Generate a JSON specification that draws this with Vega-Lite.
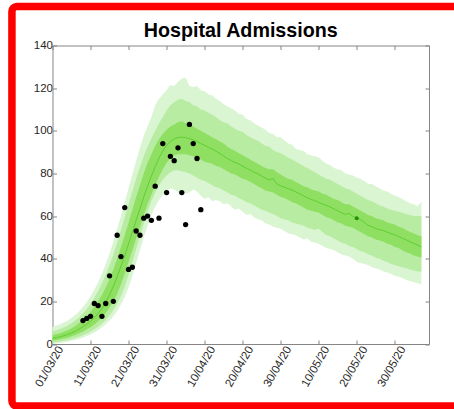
{
  "$schema": "https://vega.github.io/schema/vega-lite/v6.json",
  "autosize": {"type": "none"},
  "padding": {"left": 52.5, "top": 45.5, "right": 25, "bottom": 65},
  "width": 376.5,
  "height": 298.5,
  "background": "white",
  "title": {"text": "Hospital Admissions", "font": "Liberation Sans", "fontSize": 19.7, "fontWeight": "bold", "color": "black", "anchor": "middle", "baseline": "alphabetic", "offset": -53.9},
  "config": {
    "view": {"stroke": null},
    "font": "Liberation Sans",
    "axis": {"grid": false, "title": null, "domainColor": "#858585", "tickColor": "#858585", "labelColor": "#262626", "labelFont": "Liberation Sans", "labelFontSize": 11.5, "tickSize": -4, "labelOverlap": false, "labelFlush": false}
  },
  "datasets": {
    "bands": [
      {"date": "2020-03-01", "med": 2.7, "i_lo": 1.6, "i_hi": 4.2, "m_lo": 0.6, "m_hi": 5.8, "o_lo": 0, "o_hi": 8},
      {"date": "2020-03-02", "med": 3.0, "i_lo": 1.9, "i_hi": 4.6, "m_lo": 0.9, "m_hi": 6.4, "o_lo": 0.2, "o_hi": 8.6},
      {"date": "2020-03-03", "med": 3.4, "i_lo": 2.2, "i_hi": 5.1, "m_lo": 1.2, "m_hi": 7.0, "o_lo": 0.5, "o_hi": 9.3},
      {"date": "2020-03-04", "med": 3.9, "i_lo": 2.6, "i_hi": 5.7, "m_lo": 1.5, "m_hi": 7.8, "o_lo": 0.8, "o_hi": 10.1},
      {"date": "2020-03-05", "med": 4.5, "i_lo": 3.1, "i_hi": 6.5, "m_lo": 1.9, "m_hi": 8.7, "o_lo": 1.1, "o_hi": 11.0},
      {"date": "2020-03-06", "med": 5.2, "i_lo": 3.6, "i_hi": 7.4, "m_lo": 2.3, "m_hi": 9.7, "o_lo": 1.5, "o_hi": 12.2},
      {"date": "2020-03-07", "med": 6.0, "i_lo": 4.2, "i_hi": 8.5, "m_lo": 2.8, "m_hi": 11.0, "o_lo": 1.9, "o_hi": 13.6},
      {"date": "2020-03-08", "med": 7.0, "i_lo": 5.0, "i_hi": 9.8, "m_lo": 3.4, "m_hi": 12.5, "o_lo": 2.4, "o_hi": 15.3},
      {"date": "2020-03-09", "med": 8.1, "i_lo": 5.8, "i_hi": 11.3, "m_lo": 4.1, "m_hi": 14.3, "o_lo": 3.0, "o_hi": 17.3},
      {"date": "2020-03-10", "med": 9.3, "i_lo": 6.8, "i_hi": 13.0, "m_lo": 4.9, "m_hi": 16.4, "o_lo": 3.7, "o_hi": 19.6},
      {"date": "2020-03-11", "med": 10.7, "i_lo": 7.9, "i_hi": 15.0, "m_lo": 5.8, "m_hi": 18.8, "o_lo": 4.5, "o_hi": 22.3},
      {"date": "2020-03-12", "med": 12.3, "i_lo": 9.2, "i_hi": 17.3, "m_lo": 6.9, "m_hi": 21.6, "o_lo": 5.4, "o_hi": 25.4},
      {"date": "2020-03-13", "med": 14.2, "i_lo": 10.7, "i_hi": 20.0, "m_lo": 8.1, "m_hi": 24.8, "o_lo": 6.5, "o_hi": 29.0},
      {"date": "2020-03-14", "med": 16.6, "i_lo": 12.5, "i_hi": 23.0, "m_lo": 9.6, "m_hi": 28.5, "o_lo": 7.8, "o_hi": 33.0},
      {"date": "2020-03-15", "med": 19.5, "i_lo": 14.5, "i_hi": 26.5, "m_lo": 11.3, "m_hi": 32.5, "o_lo": 9.3, "o_hi": 37.5},
      {"date": "2020-03-16", "med": 23.0, "i_lo": 17.0, "i_hi": 30.5, "m_lo": 13.5, "m_hi": 37.0, "o_lo": 11.0, "o_hi": 42.5},
      {"date": "2020-03-17", "med": 27.0, "i_lo": 20.0, "i_hi": 35.0, "m_lo": 16.0, "m_hi": 42.0, "o_lo": 13.0, "o_hi": 48.0},
      {"date": "2020-03-18", "med": 31.5, "i_lo": 23.5, "i_hi": 40.0, "m_lo": 19.0, "m_hi": 47.5, "o_lo": 15.5, "o_hi": 54.0},
      {"date": "2020-03-19", "med": 36.5, "i_lo": 28.0, "i_hi": 45.5, "m_lo": 22.5, "m_hi": 53.5, "o_lo": 18.5, "o_hi": 60.0},
      {"date": "2020-03-20", "med": 41.5, "i_lo": 33.0, "i_hi": 51.0, "m_lo": 27.0, "m_hi": 59.5, "o_lo": 22.0, "o_hi": 66.5},
      {"date": "2020-03-21", "med": 47.0, "i_lo": 38.5, "i_hi": 57.0, "m_lo": 32.5, "m_hi": 65.5, "o_lo": 26.5, "o_hi": 73.0},
      {"date": "2020-03-22", "med": 52.5, "i_lo": 44.0, "i_hi": 63.0, "m_lo": 38.5, "m_hi": 71.5, "o_lo": 32.0, "o_hi": 79.5},
      {"date": "2020-03-23", "med": 58.0, "i_lo": 49.5, "i_hi": 69.0, "m_lo": 44.5, "m_hi": 77.5, "o_lo": 38.0, "o_hi": 86.0},
      {"date": "2020-03-24", "med": 63.5, "i_lo": 55.0, "i_hi": 74.5, "m_lo": 50.5, "m_hi": 83.0, "o_lo": 44.0, "o_hi": 92.0},
      {"date": "2020-03-25", "med": 69.0, "i_lo": 60.5, "i_hi": 80.0, "m_lo": 56.5, "m_hi": 88.0, "o_lo": 50.0, "o_hi": 97.5},
      {"date": "2020-03-26", "med": 74.0, "i_lo": 65.5, "i_hi": 85.0, "m_lo": 62.0, "m_hi": 92.5, "o_lo": 55.5, "o_hi": 102.0},
      {"date": "2020-03-27", "med": 78.8, "i_lo": 70.0, "i_hi": 89.0, "m_lo": 67.0, "m_hi": 96.5, "o_lo": 60.5, "o_hi": 106.5},
      {"date": "2020-03-28", "med": 83.2, "i_lo": 74.5, "i_hi": 93.0, "m_lo": 71.0, "m_hi": 100.0, "o_lo": 64.5, "o_hi": 112.0},
      {"date": "2020-03-29", "med": 87.2, "i_lo": 78.5, "i_hi": 96.0, "m_lo": 74.5, "m_hi": 103.5, "o_lo": 67.5, "o_hi": 115.0},
      {"date": "2020-03-30", "med": 90.5, "i_lo": 82.0, "i_hi": 98.5, "m_lo": 77.0, "m_hi": 106.5, "o_lo": 70.0, "o_hi": 117.0},
      {"date": "2020-03-31", "med": 93.2, "i_lo": 85.0, "i_hi": 100.5, "m_lo": 79.0, "m_hi": 109.5, "o_lo": 71.5, "o_hi": 119.0},
      {"date": "2020-04-01", "med": 95.0, "i_lo": 87.0, "i_hi": 102.0, "m_lo": 80.5, "m_hi": 112.0, "o_lo": 73.0, "o_hi": 121.5},
      {"date": "2020-04-02", "med": 96.2, "i_lo": 88.5, "i_hi": 103.0, "m_lo": 81.5, "m_hi": 113.5, "o_lo": 72.5, "o_hi": 121.0},
      {"date": "2020-04-03", "med": 96.8, "i_lo": 89.0, "i_hi": 104.0, "m_lo": 81.5, "m_hi": 114.5, "o_lo": 71.0, "o_hi": 123.0},
      {"date": "2020-04-04", "med": 97.0, "i_lo": 89.0, "i_hi": 104.5, "m_lo": 81.0, "m_hi": 115.0, "o_lo": 72.5, "o_hi": 124.5},
      {"date": "2020-04-05", "med": 96.8, "i_lo": 89.0, "i_hi": 103.5, "m_lo": 80.5, "m_hi": 114.0, "o_lo": 70.5, "o_hi": 125.0},
      {"date": "2020-04-06", "med": 96.3, "i_lo": 88.5, "i_hi": 103.0, "m_lo": 80.0, "m_hi": 113.5, "o_lo": 71.0, "o_hi": 121.0},
      {"date": "2020-04-07", "med": 95.8, "i_lo": 88.0, "i_hi": 102.0, "m_lo": 79.0, "m_hi": 112.0, "o_lo": 72.5, "o_hi": 120.5},
      {"date": "2020-04-08", "med": 95.0, "i_lo": 87.0, "i_hi": 101.0, "m_lo": 78.0, "m_hi": 111.5, "o_lo": 71.5, "o_hi": 121.0},
      {"date": "2020-04-09", "med": 94.0, "i_lo": 86.5, "i_hi": 100.0, "m_lo": 77.0, "m_hi": 110.0, "o_lo": 69.5, "o_hi": 119.0},
      {"date": "2020-04-10", "med": 93.2, "i_lo": 85.5, "i_hi": 99.0, "m_lo": 76.5, "m_hi": 109.5, "o_lo": 68.0, "o_hi": 118.5},
      {"date": "2020-04-11", "med": 92.2, "i_lo": 85.0, "i_hi": 98.0, "m_lo": 75.5, "m_hi": 108.5, "o_lo": 69.0, "o_hi": 117.0},
      {"date": "2020-04-12", "med": 91.4, "i_lo": 84.5, "i_hi": 97.0, "m_lo": 74.5, "m_hi": 107.5, "o_lo": 67.0, "o_hi": 116.5},
      {"date": "2020-04-13", "med": 90.4, "i_lo": 83.5, "i_hi": 96.0, "m_lo": 73.5, "m_hi": 106.5, "o_lo": 67.5, "o_hi": 115.0},
      {"date": "2020-04-14", "med": 89.4, "i_lo": 83.0, "i_hi": 95.0, "m_lo": 73.0, "m_hi": 105.0, "o_lo": 67.0, "o_hi": 114.0},
      {"date": "2020-04-15", "med": 88.2, "i_lo": 82.0, "i_hi": 94.0, "m_lo": 72.0, "m_hi": 104.0, "o_lo": 65.5, "o_hi": 112.5},
      {"date": "2020-04-16", "med": 87.0, "i_lo": 81.0, "i_hi": 92.5, "m_lo": 71.0, "m_hi": 103.5, "o_lo": 66.0, "o_hi": 111.5},
      {"date": "2020-04-17", "med": 86.0, "i_lo": 80.0, "i_hi": 91.5, "m_lo": 70.0, "m_hi": 102.0, "o_lo": 64.5, "o_hi": 110.5},
      {"date": "2020-04-18", "med": 85.2, "i_lo": 79.5, "i_hi": 90.5, "m_lo": 69.5, "m_hi": 101.0, "o_lo": 63.0, "o_hi": 109.5},
      {"date": "2020-04-19", "med": 84.4, "i_lo": 78.5, "i_hi": 89.5, "m_lo": 68.5, "m_hi": 100.0, "o_lo": 63.5, "o_hi": 108.0},
      {"date": "2020-04-20", "med": 83.4, "i_lo": 77.5, "i_hi": 88.5, "m_lo": 67.5, "m_hi": 99.5, "o_lo": 62.0, "o_hi": 107.5},
      {"date": "2020-04-21", "med": 82.4, "i_lo": 77.0, "i_hi": 87.5, "m_lo": 66.5, "m_hi": 98.0, "o_lo": 60.5, "o_hi": 105.5},
      {"date": "2020-04-22", "med": 81.6, "i_lo": 76.0, "i_hi": 86.5, "m_lo": 66.0, "m_hi": 97.0, "o_lo": 61.0, "o_hi": 105.0},
      {"date": "2020-04-23", "med": 80.6, "i_lo": 75.0, "i_hi": 85.5, "m_lo": 65.0, "m_hi": 96.0, "o_lo": 59.5, "o_hi": 103.5},
      {"date": "2020-04-24", "med": 79.8, "i_lo": 74.0, "i_hi": 84.5, "m_lo": 64.0, "m_hi": 95.5, "o_lo": 58.5, "o_hi": 102.5},
      {"date": "2020-04-25", "med": 78.8, "i_lo": 73.0, "i_hi": 83.5, "m_lo": 63.0, "m_hi": 94.0, "o_lo": 58.0, "o_hi": 101.5},
      {"date": "2020-04-26", "med": 77.8, "i_lo": 72.0, "i_hi": 82.5, "m_lo": 62.5, "m_hi": 93.0, "o_lo": 56.5, "o_hi": 100.5},
      {"date": "2020-04-27", "med": 77.0, "i_lo": 71.5, "i_hi": 82.0, "m_lo": 61.5, "m_hi": 92.5, "o_lo": 56.0, "o_hi": 99.0},
      {"date": "2020-04-28", "med": 77.5, "i_lo": 71.0, "i_hi": 82.0, "m_lo": 61.0, "m_hi": 91.0, "o_lo": 55.0, "o_hi": 98.5},
      {"date": "2020-04-29", "med": 75.0, "i_lo": 70.0, "i_hi": 80.5, "m_lo": 60.0, "m_hi": 90.0, "o_lo": 54.5, "o_hi": 97.0},
      {"date": "2020-04-30", "med": 74.2, "i_lo": 69.0, "i_hi": 79.5, "m_lo": 59.0, "m_hi": 89.5, "o_lo": 54.0, "o_hi": 97.0},
      {"date": "2020-05-01", "med": 73.6, "i_lo": 68.5, "i_hi": 78.5, "m_lo": 58.5, "m_hi": 88.5, "o_lo": 53.0, "o_hi": 95.5},
      {"date": "2020-05-02", "med": 72.8, "i_lo": 67.5, "i_hi": 77.5, "m_lo": 58.0, "m_hi": 87.5, "o_lo": 52.0, "o_hi": 94.0},
      {"date": "2020-05-03", "med": 72.2, "i_lo": 66.5, "i_hi": 77.0, "m_lo": 57.0, "m_hi": 86.5, "o_lo": 51.5, "o_hi": 93.5},
      {"date": "2020-05-04", "med": 71.3, "i_lo": 66.0, "i_hi": 76.0, "m_lo": 56.5, "m_hi": 85.5, "o_lo": 51.0, "o_hi": 91.5},
      {"date": "2020-05-05", "med": 70.4, "i_lo": 65.0, "i_hi": 75.0, "m_lo": 56.0, "m_hi": 84.5, "o_lo": 50.0, "o_hi": 91.0},
      {"date": "2020-05-06", "med": 69.5, "i_lo": 64.0, "i_hi": 74.0, "m_lo": 55.5, "m_hi": 83.5, "o_lo": 49.0, "o_hi": 90.5},
      {"date": "2020-05-07", "med": 68.6, "i_lo": 63.0, "i_hi": 73.5, "m_lo": 54.5, "m_hi": 82.5, "o_lo": 49.5, "o_hi": 89.0},
      {"date": "2020-05-08", "med": 67.8, "i_lo": 62.5, "i_hi": 72.5, "m_lo": 54.0, "m_hi": 81.5, "o_lo": 48.0, "o_hi": 88.5},
      {"date": "2020-05-09", "med": 67.2, "i_lo": 62.0, "i_hi": 72.0, "m_lo": 53.5, "m_hi": 80.5, "o_lo": 47.5, "o_hi": 88.0},
      {"date": "2020-05-10", "med": 66.4, "i_lo": 61.5, "i_hi": 71.5, "m_lo": 54.0, "m_hi": 79.5, "o_lo": 47.0, "o_hi": 87.5},
      {"date": "2020-05-11", "med": 65.6, "i_lo": 60.5, "i_hi": 70.5, "m_lo": 52.5, "m_hi": 78.5, "o_lo": 46.0, "o_hi": 86.0},
      {"date": "2020-05-12", "med": 65.0, "i_lo": 59.5, "i_hi": 70.0, "m_lo": 51.0, "m_hi": 77.5, "o_lo": 45.0, "o_hi": 84.5},
      {"date": "2020-05-13", "med": 64.3, "i_lo": 59.0, "i_hi": 69.0, "m_lo": 50.5, "m_hi": 77.0, "o_lo": 44.5, "o_hi": 84.0},
      {"date": "2020-05-14", "med": 63.4, "i_lo": 58.0, "i_hi": 68.0, "m_lo": 49.5, "m_hi": 76.0, "o_lo": 44.0, "o_hi": 82.5},
      {"date": "2020-05-15", "med": 62.5, "i_lo": 57.0, "i_hi": 67.5, "m_lo": 48.5, "m_hi": 75.0, "o_lo": 43.0, "o_hi": 82.0},
      {"date": "2020-05-16", "med": 61.6, "i_lo": 56.5, "i_hi": 66.5, "m_lo": 47.5, "m_hi": 74.0, "o_lo": 42.0, "o_hi": 81.5},
      {"date": "2020-05-17", "med": 60.8, "i_lo": 55.5, "i_hi": 65.5, "m_lo": 47.0, "m_hi": 73.0, "o_lo": 41.5, "o_hi": 80.0},
      {"date": "2020-05-18", "med": 61.2, "i_lo": 55.0, "i_hi": 65.5, "m_lo": 46.0, "m_hi": 72.5, "o_lo": 41.0, "o_hi": 79.5},
      {"date": "2020-05-19", "med": 59.8, "i_lo": 54.5, "i_hi": 64.5, "m_lo": 45.5, "m_hi": 71.5, "o_lo": 40.0, "o_hi": 79.0},
      {"date": "2020-05-20", "med": 59.2, "i_lo": 53.5, "i_hi": 63.5, "m_lo": 44.5, "m_hi": 70.5, "o_lo": 38.5, "o_hi": 78.0},
      {"date": "2020-05-21", "med": 58.3, "i_lo": 52.5, "i_hi": 62.5, "m_lo": 43.5, "m_hi": 69.5, "o_lo": 38.0, "o_hi": 77.5},
      {"date": "2020-05-22", "med": 57.0, "i_lo": 51.5, "i_hi": 61.5, "m_lo": 43.0, "m_hi": 68.5, "o_lo": 37.5, "o_hi": 76.5},
      {"date": "2020-05-23", "med": 55.6, "i_lo": 50.5, "i_hi": 60.5, "m_lo": 42.0, "m_hi": 67.5, "o_lo": 37.0, "o_hi": 75.0},
      {"date": "2020-05-24", "med": 55.0, "i_lo": 50.0, "i_hi": 60.0, "m_lo": 41.5, "m_hi": 67.0, "o_lo": 36.0, "o_hi": 75.0},
      {"date": "2020-05-25", "med": 54.2, "i_lo": 49.0, "i_hi": 59.0, "m_lo": 40.5, "m_hi": 66.0, "o_lo": 35.5, "o_hi": 74.0},
      {"date": "2020-05-26", "med": 53.6, "i_lo": 48.5, "i_hi": 58.5, "m_lo": 40.0, "m_hi": 65.0, "o_lo": 35.0, "o_hi": 73.0},
      {"date": "2020-05-27", "med": 53.2, "i_lo": 48.0, "i_hi": 58.0, "m_lo": 39.0, "m_hi": 64.5, "o_lo": 34.0, "o_hi": 72.0},
      {"date": "2020-05-28", "med": 52.4, "i_lo": 47.0, "i_hi": 57.0, "m_lo": 38.5, "m_hi": 63.5, "o_lo": 33.5, "o_hi": 71.5},
      {"date": "2020-05-29", "med": 51.8, "i_lo": 46.5, "i_hi": 56.5, "m_lo": 37.5, "m_hi": 63.0, "o_lo": 33.0, "o_hi": 70.5},
      {"date": "2020-05-30", "med": 51.2, "i_lo": 45.5, "i_hi": 56.0, "m_lo": 37.0, "m_hi": 62.5, "o_lo": 32.0, "o_hi": 69.5},
      {"date": "2020-05-31", "med": 50.4, "i_lo": 45.0, "i_hi": 55.0, "m_lo": 36.5, "m_hi": 62.0, "o_lo": 31.5, "o_hi": 69.0},
      {"date": "2020-06-01", "med": 49.6, "i_lo": 44.0, "i_hi": 54.5, "m_lo": 36.0, "m_hi": 61.5, "o_lo": 31.0, "o_hi": 68.0},
      {"date": "2020-06-02", "med": 48.8, "i_lo": 43.0, "i_hi": 53.5, "m_lo": 35.5, "m_hi": 61.0, "o_lo": 30.0, "o_hi": 67.0},
      {"date": "2020-06-03", "med": 48.0, "i_lo": 42.5, "i_hi": 52.5, "m_lo": 35.0, "m_hi": 60.5, "o_lo": 29.5, "o_hi": 66.0},
      {"date": "2020-06-04", "med": 47.2, "i_lo": 41.5, "i_hi": 52.0, "m_lo": 34.5, "m_hi": 60.0, "o_lo": 29.0, "o_hi": 65.5},
      {"date": "2020-06-05", "med": 46.4, "i_lo": 41.0, "i_hi": 51.0, "m_lo": 34.0, "m_hi": 60.0, "o_lo": 28.5, "o_hi": 64.5},
      {"date": "2020-06-06", "med": 45.6, "i_lo": 40.5, "i_hi": 50.5, "m_lo": 34.0, "m_hi": 60.0, "o_lo": 28.0, "o_hi": 67.0}
    ],
    "observed": [
      {"date": "2020-03-09", "admissions": 11},
      {"date": "2020-03-10", "admissions": 12},
      {"date": "2020-03-11", "admissions": 13},
      {"date": "2020-03-12", "admissions": 19},
      {"date": "2020-03-13", "admissions": 18},
      {"date": "2020-03-14", "admissions": 13},
      {"date": "2020-03-15", "admissions": 19},
      {"date": "2020-03-16", "admissions": 32},
      {"date": "2020-03-17", "admissions": 20},
      {"date": "2020-03-18", "admissions": 51},
      {"date": "2020-03-19", "admissions": 41},
      {"date": "2020-03-20", "admissions": 64},
      {"date": "2020-03-21", "admissions": 35},
      {"date": "2020-03-22", "admissions": 36},
      {"date": "2020-03-23", "admissions": 53},
      {"date": "2020-03-24", "admissions": 51},
      {"date": "2020-03-25", "admissions": 59},
      {"date": "2020-03-26", "admissions": 60},
      {"date": "2020-03-27", "admissions": 58},
      {"date": "2020-03-28", "admissions": 74},
      {"date": "2020-03-29", "admissions": 59},
      {"date": "2020-03-30", "admissions": 94},
      {"date": "2020-03-31", "admissions": 71},
      {"date": "2020-04-01", "admissions": 88},
      {"date": "2020-04-02", "admissions": 86},
      {"date": "2020-04-03", "admissions": 92},
      {"date": "2020-04-04", "admissions": 71},
      {"date": "2020-04-05", "admissions": 56},
      {"date": "2020-04-06", "admissions": 103},
      {"date": "2020-04-07", "admissions": 94},
      {"date": "2020-04-08", "admissions": 87},
      {"date": "2020-04-09", "admissions": 63}
    ],
    "marker": [
      {"date": "2020-05-20", "admissions": 59}
    ]
  },
  "layer": [
    {
      "data": {"values": [{}]},
      "mark": {"type": "rect", "fillOpacity": 0, "stroke": "#ff0000", "strokeWidth": 7.5, "cornerRadius": 5, "clip": false},
      "encoding": {
        "x": {"datum": {"year": 2020, "month": 2, "date": 19, "hours": 8, "utc": true}, "type": "temporal", "scale": {"type": "utc", "domain": [{"year": 2020, "month": 3, "date": 1, "utc": true}, {"year": 2020, "month": 6, "date": 8, "utc": true}]}, "axis": null},
        "x2": {"datum": {"year": 2020, "month": 6, "date": 25, "utc": true}},
        "y": {"datum": 158.3, "type": "quantitative", "scale": {"domain": [0, 140]}, "axis": null},
        "y2": {"datum": -29.1}
      }
    },
    {
      "data": {"name": "bands"},
      "mark": {"type": "area", "color": "#daf5d1"},
      "encoding": {
        "x": {"field": "date", "type": "temporal", "scale": {"type": "utc", "domain": [{"year": 2020, "month": 3, "date": 1, "utc": true}, {"year": 2020, "month": 6, "date": 8, "utc": true}]},
          "axis": {"orient": "bottom", "format": "%d/%m/%y", "labelAngle": -60, "labelAlign": "right", "labelBaseline": "middle", "labelPadding": 7, "labelOffset": 8,
            "values": [{"year": 2020, "month": 3, "date": 1, "utc": true}, {"year": 2020, "month": 3, "date": 11, "utc": true}, {"year": 2020, "month": 3, "date": 21, "utc": true}, {"year": 2020, "month": 3, "date": 31, "utc": true}, {"year": 2020, "month": 4, "date": 10, "utc": true}, {"year": 2020, "month": 4, "date": 20, "utc": true}, {"year": 2020, "month": 4, "date": 30, "utc": true}, {"year": 2020, "month": 5, "date": 10, "utc": true}, {"year": 2020, "month": 5, "date": 20, "utc": true}, {"year": 2020, "month": 5, "date": 30, "utc": true}]}},
        "y": {"field": "o_lo", "type": "quantitative", "scale": {"domain": [0, 140]}, "axis": {"orient": "left", "values": [0, 20, 40, 60, 80, 100, 120, 140], "labelPadding": 4}},
        "y2": {"field": "o_hi"}
      }
    },
    {
      "data": {"name": "bands"},
      "mark": {"type": "area", "color": "#b9eca3"},
      "encoding": {
        "x": {"field": "date", "type": "temporal", "scale": {"type": "utc", "domain": [{"year": 2020, "month": 3, "date": 1, "utc": true}, {"year": 2020, "month": 6, "date": 8, "utc": true}]},
          "axis": {"orient": "top", "labels": false,
            "values": [{"year": 2020, "month": 3, "date": 1, "utc": true}, {"year": 2020, "month": 3, "date": 11, "utc": true}, {"year": 2020, "month": 3, "date": 21, "utc": true}, {"year": 2020, "month": 3, "date": 31, "utc": true}, {"year": 2020, "month": 4, "date": 10, "utc": true}, {"year": 2020, "month": 4, "date": 20, "utc": true}, {"year": 2020, "month": 4, "date": 30, "utc": true}, {"year": 2020, "month": 5, "date": 10, "utc": true}, {"year": 2020, "month": 5, "date": 20, "utc": true}, {"year": 2020, "month": 5, "date": 30, "utc": true}]}},
        "y": {"field": "m_lo", "type": "quantitative", "scale": {"domain": [0, 140]}, "axis": {"orient": "right", "labels": false, "values": [0, 20, 40, 60, 80, 100, 120, 140]}},
        "y2": {"field": "m_hi"}
      }
    },
    {
      "data": {"name": "bands"},
      "mark": {"type": "area", "color": "#8fdf62"},
      "encoding": {
        "x": {"field": "date", "type": "temporal", "scale": {"type": "utc", "domain": [{"year": 2020, "month": 3, "date": 1, "utc": true}, {"year": 2020, "month": 6, "date": 8, "utc": true}]}, "axis": null},
        "y": {"field": "i_lo", "type": "quantitative", "scale": {"domain": [0, 140]}, "axis": null},
        "y2": {"field": "i_hi"}
      }
    },
    {
      "data": {"name": "bands"},
      "mark": {"type": "line", "color": "#5fcf30", "strokeWidth": 1},
      "encoding": {
        "x": {"field": "date", "type": "temporal", "scale": {"type": "utc", "domain": [{"year": 2020, "month": 3, "date": 1, "utc": true}, {"year": 2020, "month": 6, "date": 8, "utc": true}]}, "axis": null},
        "y": {"field": "med", "type": "quantitative", "scale": {"domain": [0, 140]}, "axis": null}
      }
    },
    {
      "data": {"name": "observed"},
      "mark": {"type": "circle", "color": "black", "opacity": 1, "size": 28},
      "encoding": {
        "x": {"field": "date", "type": "temporal", "scale": {"type": "utc", "domain": [{"year": 2020, "month": 3, "date": 1, "utc": true}, {"year": 2020, "month": 6, "date": 8, "utc": true}]}, "axis": null},
        "y": {"field": "admissions", "type": "quantitative", "scale": {"domain": [0, 140]}, "axis": null}
      }
    },
    {
      "data": {"name": "marker"},
      "mark": {"type": "circle", "color": "#1f8f10", "opacity": 1, "size": 16},
      "encoding": {
        "x": {"field": "date", "type": "temporal", "scale": {"type": "utc", "domain": [{"year": 2020, "month": 3, "date": 1, "utc": true}, {"year": 2020, "month": 6, "date": 8, "utc": true}]}, "axis": null},
        "y": {"field": "admissions", "type": "quantitative", "scale": {"domain": [0, 140]}, "axis": null}
      }
    }
  ],
  "resolve": {"axis": {"x": "independent", "y": "independent"}}
}
